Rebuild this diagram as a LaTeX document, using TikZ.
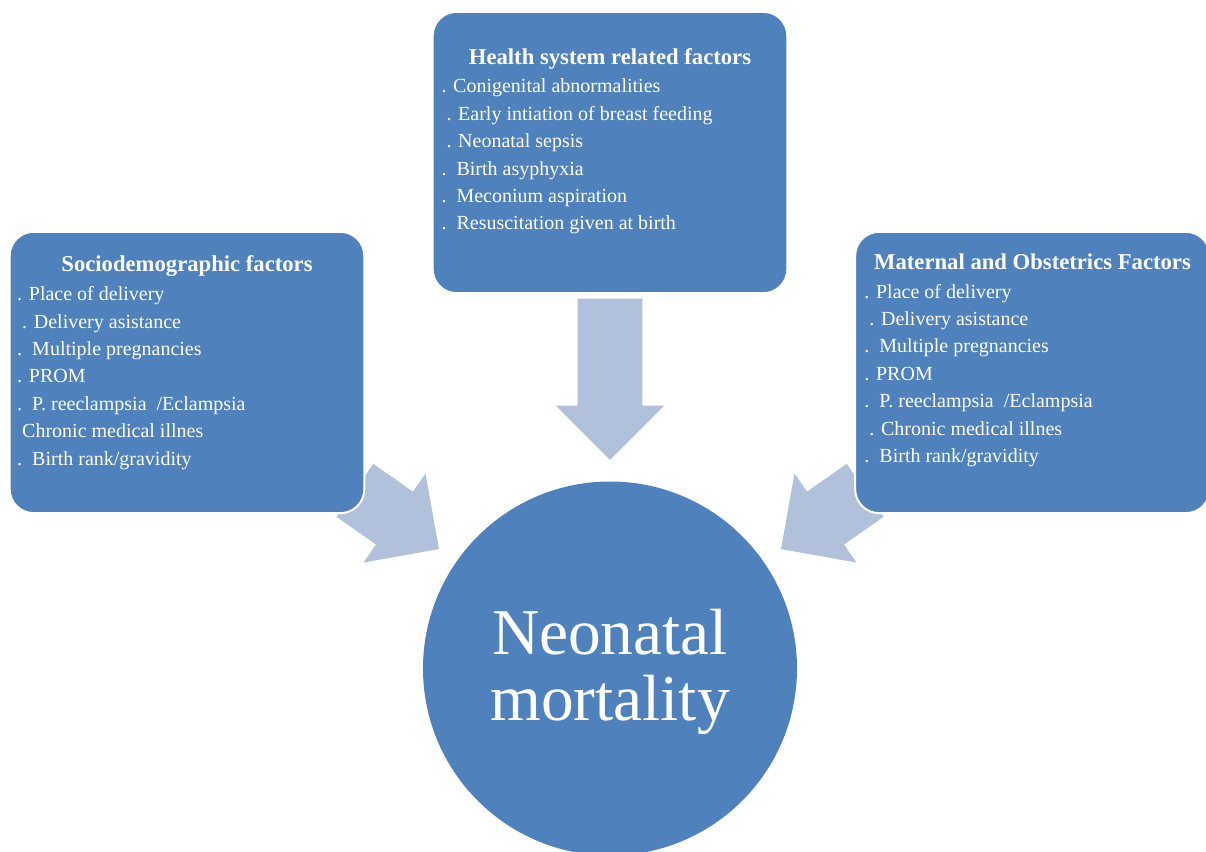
\documentclass[tikz,border=0pt]{standalone}
\usepackage{fontspec}
\setmainfont{Liberation Serif}
\usetikzlibrary{shapes, calc, backgrounds}

\definecolor{boxblue}{HTML}{4F81BD}
\definecolor{arrowblue}{HTML}{B1C1DC}

\begin{document}
\begin{tikzpicture}[
    x=0.75pt, y=-0.75pt,
    factor/.style={rectangle, fill=boxblue, draw=white, line width=1.5pt,
        rounded corners=18pt, minimum width=266pt, minimum height=211pt, inner sep=0pt},
    head/.style={font=\fontsize{17}{20}\selectfont\bfseries, text=white,
        inner sep=0pt, anchor=base},
    items/.style={font=\fontsize{15}{20.55}\selectfont, text=white, align=left,
        inner sep=0pt, anchor=north west},
    link/.style={single arrow, fill=arrowblue, minimum width=81pt,
        single arrow head extend=16.5pt, single arrow tip angle=90,
        inner xsep=0pt, inner ysep=24pt, anchor=tip},
    outcome/.style={circle, fill=boxblue, minimum size=280.5pt, inner sep=0pt},
    outcometext/.style={text=white, align=center, inner sep=0pt,
        font=\fontsize{49}{50}\selectfont}
]
\useasboundingbox (0,0) rectangle (1206,852);
\clip (0,0) rectangle (1206,852);

\node (Health) [factor] at (610,152.5) {};
\node (Socio) [factor] at (187,372.5) {};
\node (Maternal) [factor] at (1032.5,372.5) {};
\node (Mortality) [outcome] at (610,668.5) {};
\node (MortalityText) [outcometext] at ($(Mortality.center)+(0,3.5)$) {Neonatal\\mortality};

\node (HealthHead) [head] at ($(Health.north)+(0,53.3)$) {Health system related factors};
\node (HealthList) [items] at ($(Health.north west)+(9.6,68)$) {%
  . Conigenital abnormalities\\
  ~. Early intiation of breast feeding\\
  ~. Neonatal sepsis\\
  .~~Birth asyphyxia\\
  .~~Meconium aspiration\\
  .~~Resuscitation given at birth};

\node (SocioHead) [head] at ($(Socio.north)+(0,40.6)$) {Sociodemographic factors};
\node (SocioList) [items] at ($(Socio.north west)+(8.3,55.6)$) {%
  . Place of delivery\\
  ~. Delivery asistance\\
  .~~Multiple pregnancies\\
  . PROM\\
  .~~P. reeclampsia ~/Eclampsia\\
  ~Chronic medical illnes\\
  .~~Birth rank/gravidity};

\node (MaternalHead) [head] at ($(Maternal.north)+(0,38.3)$) {Maternal and Obstetrics Factors};
\node (MaternalList) [items] at ($(Maternal.north west)+(10,52.9)$) {%
  . Place of delivery\\
  ~. Delivery asistance\\
  .~~Multiple pregnancies\\
  . PROM\\
  .~~P. reeclampsia ~/Eclampsia\\
  ~. Chronic medical illnes\\
  .~~Birth rank/gravidity};

% block arrows behind the boxes
\begin{scope}[on background layer]
\node (HealthArrow) [link, minimum height=121pt, rotate=-90]
  at ($(Mortality.north)+(0,-21)$) {};
\node (SocioArrow) [link, minimum height=77pt, rotate=-34.9]
  at ($(Mortality.center)+(-170.7,-119.2)$) {};
\node (MaternalArrow) [link, minimum height=77pt, rotate=-145.1]
  at ($(Mortality.center)+(170.7,-119.2)$) {};
\end{scope}

\end{tikzpicture}
\end{document}
